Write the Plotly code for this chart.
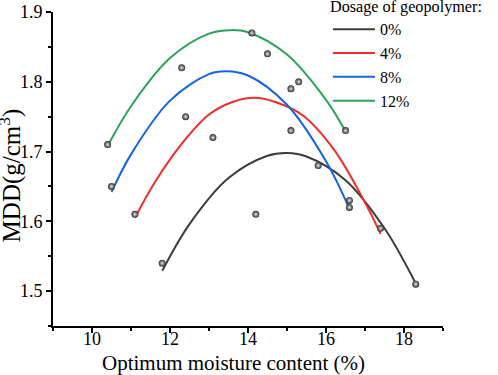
import plotly.graph_objects as go

# Measured points (optimum moisture content %, MDD g/cm3)
pt_x = [10.4, 10.5, 11.1, 11.8, 12.3, 12.4, 13.1, 14.1, 14.2, 14.5,
        15.1, 15.3, 15.1, 15.8, 16.5, 16.6, 16.6, 17.4, 18.3]
pt_y = [1.71, 1.65, 1.61, 1.54, 1.82, 1.75, 1.72, 1.87, 1.61, 1.84,
        1.79, 1.80, 1.73, 1.68, 1.73, 1.63, 1.62, 1.59, 1.51]

# Fitted curves
series_names = ["0%", "4%", "8%", "12%"]
fit0_x = [11.8, 12.5, 13.5, 14.5, 15.0, 15.5, 16.5, 17.5, 18.3]
fit0_y = [1.529, 1.596, 1.662, 1.694, 1.698, 1.693, 1.659, 1.590, 1.511]
fit4_x = [11.1, 11.6, 12.3, 13.0, 13.6, 14.15, 14.7, 15.4, 16.2, 17.0, 17.4]
fit4_y = [1.605, 1.655, 1.711, 1.753, 1.771, 1.777, 1.771, 1.752, 1.703, 1.627, 1.582]
fit8_x = [10.5, 11.0, 12.0, 13.0, 13.45, 14.0, 15.0, 16.0, 16.6]
fit8_y = [1.642, 1.696, 1.773, 1.811, 1.815, 1.809, 1.767, 1.686, 1.618]
fit12_x = [10.4, 11.0, 12.0, 13.0, 13.55, 14.0, 15.0, 16.0, 16.5]
fit12_y = [1.708, 1.765, 1.834, 1.869, 1.874, 1.871, 1.839, 1.774, 1.729]

x_title = "Optimum moisture content (%)"
y_title = "MDD(g/cm<sup>3</sup>)"
legend_title = "Dosage of geopolymer:"

colors = ["#3c3c3c", "#f52a2a", "#1464e6", "#2aa35a"]
fits = [(fit0_x, fit0_y), (fit4_x, fit4_y), (fit8_x, fit8_y), (fit12_x, fit12_y)]

FONT = "Liberation Serif, Times New Roman, serif"

fig = go.Figure()
for name, (fx, fy), c in zip(series_names, fits, colors):
    fig.add_trace(go.Scatter(x=fx, y=fy, mode="lines", name=name,
                             line=dict(color=c, width=2, shape="spline", smoothing=1.0)))

fig.add_trace(go.Scatter(x=pt_x, y=pt_y, mode="markers", showlegend=False,
                         marker=dict(size=7, color="#2a2a2a",
                                     gradient=dict(type="radial", color="#e6e6e6"),
                                     line=dict(width=0))))

axis_common = dict(showline=True, linecolor="black", linewidth=2, ticks="outside",
                   ticklen=5, tickwidth=2, tickcolor="black", showgrid=False,
                   zeroline=False, mirror=False,
                   tickfont=dict(family=FONT, size=18, color="black"))

fig.update_layout(
    width=498, height=375,
    margin=dict(l=53, r=55, t=12, b=49, autoexpand=False),
    paper_bgcolor="white", plot_bgcolor="white",
    font=dict(family=FONT, size=18, color="black"),
    xaxis=dict(range=[9, 19], tick0=10, dtick=2, ticklabelstandoff=-10,
               minor=dict(dtick=1, tick0=9, ticks="outside", ticklen=3, tickwidth=2, tickcolor="black"),
               **axis_common),
    yaxis=dict(range=[1.45, 1.9], tick0=1.5, dtick=0.1, tickformat=".1f",
               minor=dict(dtick=0.05, tick0=1.45, ticks="outside", ticklen=3, tickwidth=2, tickcolor="black"),
               **axis_common),
    legend=dict(x=0.705, y=1.066, xanchor="left", yanchor="top",
                bgcolor="rgba(0,0,0,0)", borderwidth=0,
                title=dict(text=legend_title, font=dict(family=FONT, size=16.2)),
                font=dict(family=FONT, size=16), itemwidth=42, tracegroupgap=0),
    annotations=[
        dict(text=x_title, xref="paper", yref="paper", x=0.464, y=-0.118,
             xanchor="center", yanchor="middle", showarrow=False,
             font=dict(family=FONT, size=21, color="black")),
        dict(text=y_title, xref="paper", yref="paper", x=-0.11, y=0.48,
             xanchor="center", yanchor="middle", showarrow=False, textangle=-90,
             font=dict(family=FONT, size=25, color="black")),
    ],
)

fig.write_html("out.html", config={"displayModeBar": False},
               post_script="document.body.style.margin='0';")
